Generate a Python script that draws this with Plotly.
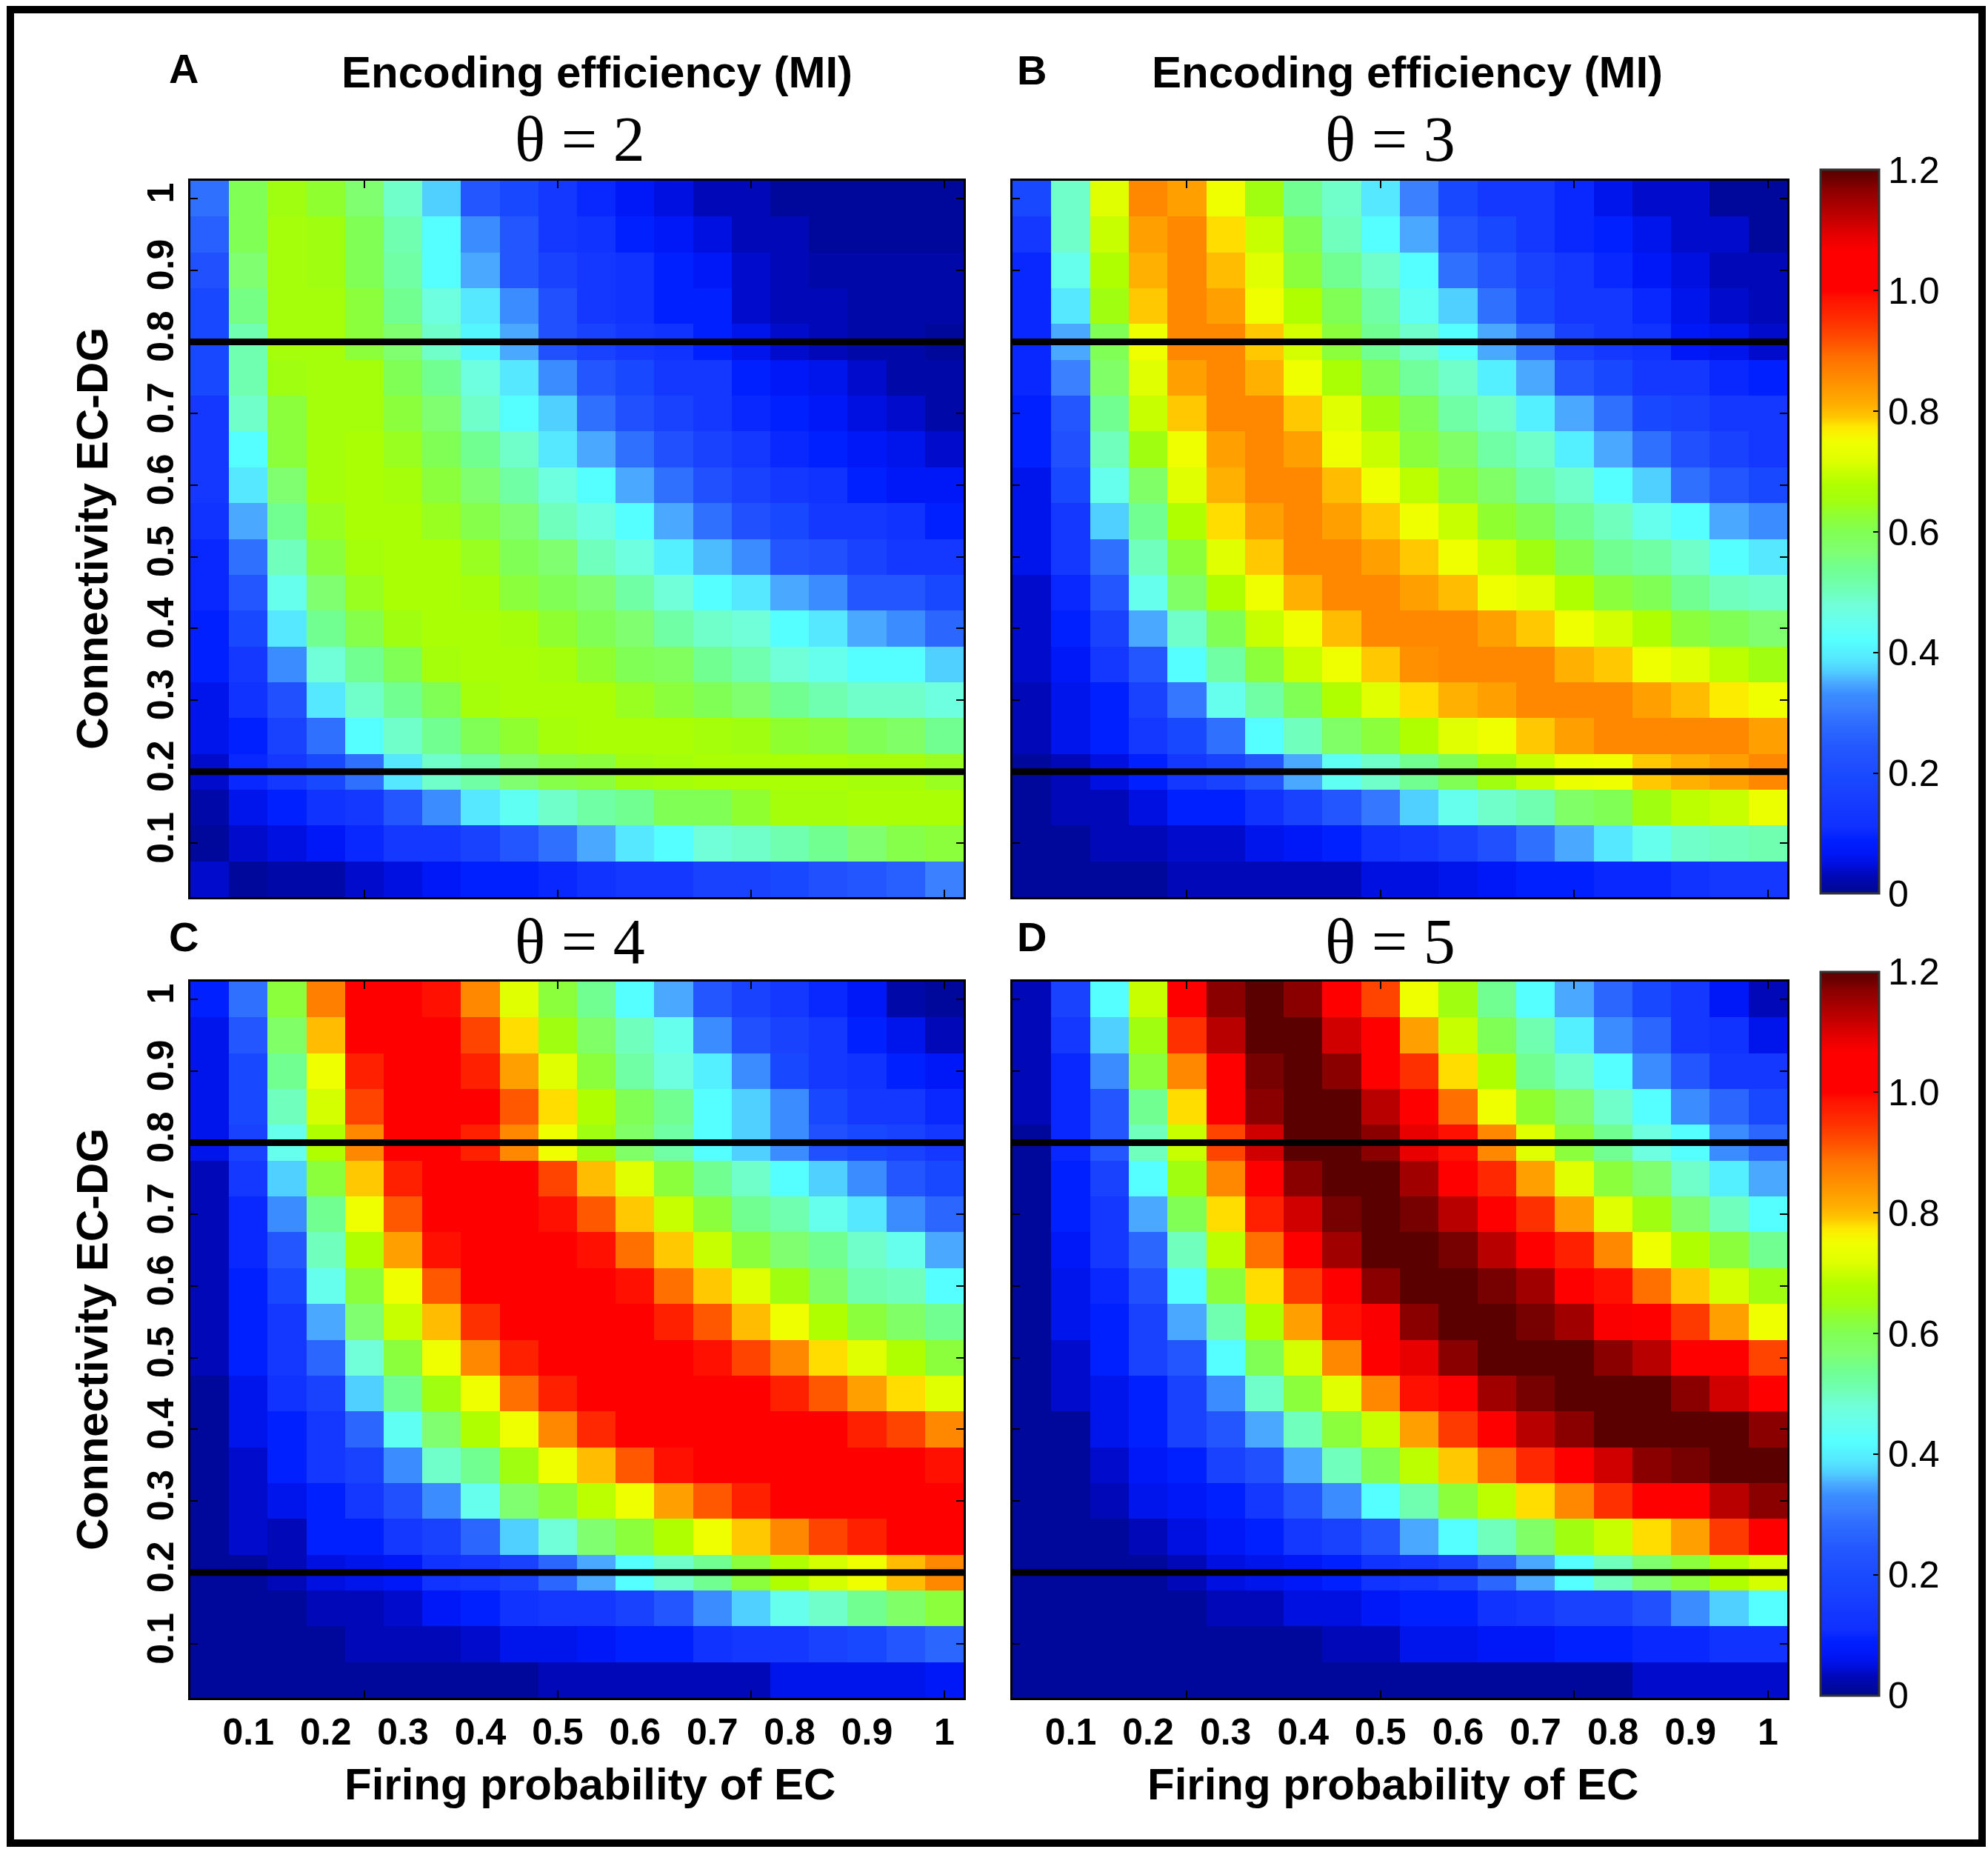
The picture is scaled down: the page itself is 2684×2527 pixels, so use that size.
import plotly.graph_objects as go

W, H = 2684, 2527

# grid of the simulations (cell centres)
x_vals = [0.05, 0.1, 0.15, 0.2, 0.25, 0.3, 0.35, 0.4, 0.45, 0.5,
          0.55, 0.6, 0.65, 0.7, 0.75, 0.8, 0.85, 0.9, 0.95, 1.0]
y_vals = [0.05, 0.1, 0.15, 0.2, 0.25, 0.3, 0.35, 0.4, 0.45, 0.5,
          0.55, 0.6, 0.65, 0.7, 0.75, 0.8, 0.85, 0.9, 0.95, 1.0]

x_tick_vals = [0.1, 0.2, 0.3, 0.4, 0.5, 0.6, 0.7, 0.8, 0.9, 1.0]
x_tick_text = ["0.1", "0.2", "0.3", "0.4", "0.5", "0.6", "0.7", "0.8", "0.9", "1"]
y_tick_vals = [0.1, 0.2, 0.3, 0.4, 0.5, 0.6, 0.7, 0.8, 0.9, 1.0]
y_tick_text = ["0.1", "0.2", "0.3", "0.4", "0.5", "0.6", "0.7", "0.8", "0.9", "1"]
x_mark_vals = [0.25, 0.5, 0.75, 1.0]
band_levels = [0.2, 0.8]
cbar_tick_vals = [0, 0.2, 0.4, 0.6, 0.8, 1.0, 1.2]
cbar_tick_text = ["0", "0.2", "0.4", "0.6", "0.8", "1.0", "1.2"]
thetas = [2, 3, 4, 5]

# MI values, rows listed from connectivity 1.0 (top) down to 0.05 (bottom)
mi_theta2 = [
    [0.29, 0.60, 0.65, 0.63, 0.57, 0.49, 0.37, 0.24, 0.19, 0.14, 0.10, 0.07, 0.05, 0.03, 0.03, 0.01, 0.01, 0.01, 0.01, 0.01],
    [0.26, 0.60, 0.66, 0.65, 0.60, 0.51, 0.42, 0.33, 0.24, 0.14, 0.12, 0.09, 0.07, 0.05, 0.03, 0.03, 0.01, 0.01, 0.01, 0.01],
    [0.22, 0.57, 0.66, 0.65, 0.60, 0.52, 0.42, 0.35, 0.24, 0.17, 0.14, 0.12, 0.09, 0.07, 0.04, 0.03, 0.02, 0.02, 0.02, 0.02],
    [0.19, 0.55, 0.66, 0.66, 0.62, 0.54, 0.47, 0.39, 0.33, 0.22, 0.14, 0.12, 0.09, 0.09, 0.04, 0.03, 0.03, 0.02, 0.02, 0.02],
    [0.19, 0.51, 0.66, 0.66, 0.62, 0.57, 0.49, 0.41, 0.35, 0.22, 0.17, 0.14, 0.12, 0.09, 0.06, 0.04, 0.03, 0.02, 0.02, 0.01],
    [0.19, 0.51, 0.65, 0.66, 0.66, 0.60, 0.54, 0.47, 0.39, 0.33, 0.24, 0.19, 0.14, 0.14, 0.09, 0.07, 0.06, 0.04, 0.02, 0.02],
    [0.14, 0.49, 0.62, 0.66, 0.66, 0.62, 0.57, 0.49, 0.42, 0.37, 0.29, 0.22, 0.17, 0.14, 0.10, 0.09, 0.07, 0.05, 0.04, 0.02],
    [0.14, 0.42, 0.62, 0.66, 0.67, 0.64, 0.60, 0.54, 0.49, 0.39, 0.35, 0.29, 0.22, 0.17, 0.14, 0.10, 0.09, 0.07, 0.06, 0.04],
    [0.14, 0.39, 0.57, 0.66, 0.67, 0.66, 0.62, 0.57, 0.52, 0.47, 0.42, 0.35, 0.29, 0.22, 0.17, 0.14, 0.12, 0.09, 0.07, 0.07],
    [0.12, 0.35, 0.54, 0.64, 0.67, 0.67, 0.64, 0.61, 0.57, 0.50, 0.47, 0.42, 0.35, 0.29, 0.22, 0.19, 0.14, 0.14, 0.12, 0.09],
    [0.10, 0.29, 0.50, 0.62, 0.66, 0.67, 0.67, 0.64, 0.60, 0.57, 0.50, 0.47, 0.40, 0.36, 0.33, 0.24, 0.22, 0.17, 0.14, 0.14],
    [0.10, 0.24, 0.45, 0.57, 0.64, 0.67, 0.67, 0.66, 0.62, 0.60, 0.57, 0.52, 0.48, 0.42, 0.39, 0.35, 0.33, 0.24, 0.24, 0.19],
    [0.09, 0.19, 0.39, 0.54, 0.61, 0.65, 0.67, 0.67, 0.66, 0.63, 0.60, 0.57, 0.52, 0.49, 0.48, 0.42, 0.39, 0.35, 0.33, 0.27],
    [0.09, 0.14, 0.33, 0.48, 0.54, 0.60, 0.66, 0.67, 0.67, 0.66, 0.63, 0.60, 0.59, 0.54, 0.51, 0.48, 0.45, 0.42, 0.42, 0.37],
    [0.06, 0.12, 0.22, 0.39, 0.49, 0.54, 0.60, 0.66, 0.67, 0.67, 0.67, 0.64, 0.62, 0.60, 0.57, 0.54, 0.51, 0.49, 0.49, 0.47],
    [0.06, 0.09, 0.17, 0.29, 0.42, 0.49, 0.54, 0.60, 0.63, 0.66, 0.67, 0.67, 0.67, 0.66, 0.65, 0.63, 0.62, 0.60, 0.58, 0.54],
    [0.04, 0.10, 0.14, 0.19, 0.29, 0.39, 0.49, 0.52, 0.57, 0.61, 0.62, 0.65, 0.66, 0.67, 0.67, 0.67, 0.67, 0.66, 0.66, 0.64],
    [0.02, 0.06, 0.09, 0.12, 0.14, 0.24, 0.33, 0.39, 0.44, 0.49, 0.52, 0.54, 0.60, 0.60, 0.63, 0.66, 0.66, 0.67, 0.67, 0.67],
    [0.01, 0.04, 0.05, 0.07, 0.10, 0.14, 0.14, 0.17, 0.24, 0.29, 0.35, 0.39, 0.42, 0.48, 0.49, 0.51, 0.54, 0.57, 0.61, 0.62],
    [0.04, 0.01, 0.02, 0.02, 0.04, 0.05, 0.07, 0.09, 0.09, 0.10, 0.12, 0.14, 0.14, 0.17, 0.17, 0.19, 0.22, 0.24, 0.26, 0.31],
]

mi_theta3 = [
    [0.19, 0.49, 0.72, 0.86, 0.83, 0.75, 0.65, 0.54, 0.49, 0.39, 0.31, 0.19, 0.14, 0.14, 0.10, 0.06, 0.04, 0.04, 0.01, 0.01],
    [0.14, 0.49, 0.70, 0.83, 0.86, 0.78, 0.70, 0.60, 0.50, 0.42, 0.35, 0.24, 0.19, 0.14, 0.10, 0.09, 0.06, 0.04, 0.04, 0.01],
    [0.10, 0.45, 0.68, 0.81, 0.86, 0.80, 0.72, 0.62, 0.54, 0.49, 0.42, 0.29, 0.24, 0.17, 0.14, 0.10, 0.07, 0.05, 0.03, 0.03],
    [0.10, 0.39, 0.65, 0.79, 0.86, 0.83, 0.75, 0.68, 0.60, 0.52, 0.44, 0.37, 0.29, 0.19, 0.14, 0.14, 0.10, 0.06, 0.04, 0.03],
    [0.10, 0.35, 0.60, 0.75, 0.86, 0.86, 0.79, 0.71, 0.62, 0.54, 0.49, 0.42, 0.35, 0.29, 0.17, 0.14, 0.12, 0.07, 0.06, 0.04],
    [0.10, 0.31, 0.58, 0.72, 0.83, 0.86, 0.81, 0.75, 0.67, 0.60, 0.53, 0.49, 0.40, 0.35, 0.24, 0.19, 0.14, 0.14, 0.10, 0.09],
    [0.09, 0.24, 0.54, 0.70, 0.79, 0.86, 0.86, 0.79, 0.72, 0.65, 0.60, 0.52, 0.49, 0.40, 0.35, 0.29, 0.19, 0.17, 0.14, 0.14],
    [0.09, 0.22, 0.50, 0.65, 0.75, 0.83, 0.86, 0.83, 0.75, 0.70, 0.62, 0.58, 0.52, 0.49, 0.40, 0.35, 0.29, 0.22, 0.17, 0.14],
    [0.06, 0.19, 0.45, 0.58, 0.72, 0.81, 0.86, 0.86, 0.80, 0.75, 0.69, 0.62, 0.58, 0.52, 0.49, 0.42, 0.37, 0.29, 0.24, 0.19],
    [0.06, 0.14, 0.37, 0.54, 0.68, 0.78, 0.83, 0.86, 0.83, 0.79, 0.75, 0.70, 0.63, 0.60, 0.54, 0.50, 0.45, 0.42, 0.35, 0.33],
    [0.06, 0.14, 0.29, 0.50, 0.62, 0.72, 0.79, 0.86, 0.86, 0.83, 0.79, 0.75, 0.70, 0.65, 0.60, 0.54, 0.52, 0.49, 0.42, 0.39],
    [0.04, 0.10, 0.24, 0.45, 0.58, 0.68, 0.75, 0.81, 0.86, 0.86, 0.83, 0.80, 0.75, 0.72, 0.68, 0.62, 0.60, 0.54, 0.50, 0.49],
    [0.04, 0.09, 0.17, 0.35, 0.49, 0.60, 0.70, 0.75, 0.80, 0.86, 0.86, 0.86, 0.83, 0.79, 0.75, 0.71, 0.68, 0.62, 0.60, 0.57],
    [0.04, 0.07, 0.14, 0.24, 0.42, 0.52, 0.62, 0.70, 0.75, 0.79, 0.85, 0.86, 0.86, 0.86, 0.81, 0.79, 0.75, 0.72, 0.69, 0.65],
    [0.03, 0.06, 0.09, 0.17, 0.30, 0.45, 0.52, 0.60, 0.68, 0.72, 0.78, 0.81, 0.83, 0.86, 0.86, 0.86, 0.83, 0.80, 0.77, 0.75],
    [0.03, 0.06, 0.09, 0.14, 0.19, 0.29, 0.42, 0.50, 0.58, 0.62, 0.68, 0.72, 0.75, 0.79, 0.83, 0.86, 0.86, 0.86, 0.86, 0.83],
    [0.01, 0.03, 0.05, 0.09, 0.14, 0.17, 0.24, 0.35, 0.44, 0.49, 0.54, 0.60, 0.65, 0.70, 0.74, 0.75, 0.79, 0.81, 0.83, 0.86],
    [0.01, 0.03, 0.03, 0.05, 0.09, 0.09, 0.12, 0.17, 0.24, 0.30, 0.37, 0.45, 0.49, 0.51, 0.58, 0.60, 0.65, 0.69, 0.70, 0.74],
    [0.01, 0.01, 0.03, 0.03, 0.04, 0.04, 0.06, 0.07, 0.09, 0.12, 0.14, 0.17, 0.22, 0.29, 0.35, 0.39, 0.45, 0.49, 0.50, 0.51],
    [0.01, 0.01, 0.01, 0.01, 0.03, 0.03, 0.03, 0.03, 0.03, 0.05, 0.05, 0.06, 0.07, 0.09, 0.09, 0.10, 0.10, 0.12, 0.14, 0.14],
]

mi_theta4 = [
    [0.09, 0.29, 0.62, 0.87, 1.03, 1.03, 0.99, 0.86, 0.72, 0.62, 0.54, 0.42, 0.35, 0.24, 0.17, 0.14, 0.10, 0.07, 0.02, 0.01],
    [0.06, 0.24, 0.58, 0.80, 1.03, 1.03, 1.03, 0.93, 0.78, 0.65, 0.58, 0.50, 0.45, 0.33, 0.22, 0.17, 0.14, 0.09, 0.06, 0.03],
    [0.06, 0.19, 0.54, 0.75, 0.97, 1.03, 1.03, 0.97, 0.83, 0.72, 0.62, 0.52, 0.47, 0.40, 0.33, 0.19, 0.14, 0.12, 0.09, 0.07],
    [0.06, 0.19, 0.50, 0.71, 0.93, 1.03, 1.03, 1.01, 0.91, 0.78, 0.68, 0.60, 0.54, 0.42, 0.37, 0.33, 0.19, 0.14, 0.14, 0.10],
    [0.06, 0.17, 0.45, 0.68, 0.86, 1.01, 1.03, 0.97, 0.86, 0.75, 0.65, 0.58, 0.52, 0.42, 0.37, 0.33, 0.22, 0.19, 0.17, 0.14],
    [0.03, 0.14, 0.37, 0.62, 0.79, 0.97, 1.03, 1.03, 1.01, 0.93, 0.80, 0.72, 0.62, 0.54, 0.49, 0.42, 0.37, 0.33, 0.24, 0.19],
    [0.03, 0.10, 0.33, 0.54, 0.75, 0.91, 1.03, 1.03, 1.03, 0.99, 0.91, 0.79, 0.70, 0.62, 0.54, 0.51, 0.45, 0.39, 0.33, 0.27],
    [0.03, 0.10, 0.24, 0.50, 0.68, 0.83, 0.99, 1.03, 1.03, 1.03, 0.99, 0.89, 0.79, 0.70, 0.62, 0.57, 0.54, 0.49, 0.45, 0.35],
    [0.03, 0.09, 0.19, 0.45, 0.62, 0.75, 0.91, 1.03, 1.03, 1.03, 1.03, 0.99, 0.89, 0.79, 0.72, 0.65, 0.58, 0.51, 0.50, 0.42],
    [0.03, 0.09, 0.14, 0.35, 0.57, 0.70, 0.80, 0.95, 1.03, 1.03, 1.03, 1.03, 0.97, 0.91, 0.80, 0.75, 0.68, 0.62, 0.58, 0.54],
    [0.03, 0.09, 0.14, 0.27, 0.48, 0.62, 0.75, 0.86, 0.97, 1.03, 1.03, 1.03, 1.03, 0.99, 0.93, 0.86, 0.78, 0.72, 0.68, 0.62],
    [0.01, 0.06, 0.12, 0.17, 0.37, 0.54, 0.65, 0.75, 0.89, 0.97, 1.03, 1.03, 1.03, 1.03, 1.01, 0.97, 0.91, 0.83, 0.78, 0.72],
    [0.01, 0.06, 0.09, 0.14, 0.27, 0.44, 0.57, 0.68, 0.75, 0.86, 0.96, 1.03, 1.03, 1.03, 1.03, 1.03, 1.03, 0.97, 0.93, 0.86],
    [0.01, 0.04, 0.09, 0.14, 0.17, 0.33, 0.49, 0.54, 0.65, 0.75, 0.80, 0.91, 0.99, 1.03, 1.03, 1.03, 1.03, 1.03, 1.03, 0.99],
    [0.01, 0.04, 0.06, 0.09, 0.14, 0.22, 0.33, 0.45, 0.57, 0.62, 0.69, 0.75, 0.83, 0.91, 0.97, 1.01, 1.03, 1.03, 1.03, 1.03],
    [0.01, 0.04, 0.03, 0.09, 0.09, 0.14, 0.17, 0.27, 0.37, 0.48, 0.57, 0.62, 0.68, 0.75, 0.79, 0.86, 0.93, 0.97, 1.03, 1.03],
    [0.01, 0.01, 0.03, 0.05, 0.06, 0.07, 0.12, 0.14, 0.17, 0.27, 0.35, 0.42, 0.49, 0.54, 0.62, 0.68, 0.71, 0.75, 0.80, 0.86],
    [0.01, 0.01, 0.01, 0.03, 0.03, 0.04, 0.07, 0.09, 0.12, 0.14, 0.14, 0.17, 0.24, 0.33, 0.37, 0.45, 0.49, 0.54, 0.58, 0.62],
    [0.01, 0.01, 0.01, 0.01, 0.03, 0.03, 0.03, 0.04, 0.06, 0.06, 0.07, 0.09, 0.09, 0.12, 0.14, 0.14, 0.17, 0.19, 0.24, 0.27],
    [0.01, 0.01, 0.01, 0.01, 0.01, 0.01, 0.01, 0.01, 0.01, 0.03, 0.03, 0.03, 0.03, 0.03, 0.03, 0.06, 0.06, 0.06, 0.06, 0.07],
]

mi_theta5 = [
    [0.03, 0.17, 0.42, 0.70, 1.03, 1.17, 1.20, 1.17, 1.03, 0.93, 0.75, 0.65, 0.54, 0.42, 0.35, 0.27, 0.19, 0.14, 0.07, 0.03],
    [0.03, 0.14, 0.37, 0.65, 0.95, 1.13, 1.20, 1.20, 1.11, 1.01, 0.83, 0.70, 0.60, 0.51, 0.40, 0.33, 0.27, 0.14, 0.12, 0.06],
    [0.03, 0.10, 0.33, 0.62, 0.86, 1.03, 1.18, 1.20, 1.17, 1.03, 0.95, 0.78, 0.68, 0.54, 0.49, 0.42, 0.33, 0.24, 0.14, 0.14],
    [0.03, 0.10, 0.24, 0.54, 0.78, 1.03, 1.17, 1.20, 1.20, 1.13, 1.03, 0.89, 0.75, 0.63, 0.57, 0.49, 0.42, 0.33, 0.27, 0.19],
    [0.01, 0.10, 0.24, 0.50, 0.70, 0.93, 1.11, 1.20, 1.20, 1.17, 1.09, 0.99, 0.86, 0.72, 0.62, 0.54, 0.47, 0.42, 0.33, 0.27],
    [0.01, 0.09, 0.17, 0.42, 0.65, 0.86, 1.03, 1.17, 1.20, 1.20, 1.15, 1.01, 0.96, 0.83, 0.72, 0.62, 0.57, 0.49, 0.40, 0.35],
    [0.01, 0.09, 0.14, 0.35, 0.60, 0.78, 0.97, 1.11, 1.18, 1.20, 1.18, 1.13, 1.01, 0.95, 0.83, 0.72, 0.65, 0.57, 0.50, 0.42],
    [0.01, 0.07, 0.14, 0.27, 0.50, 0.69, 0.89, 1.03, 1.15, 1.20, 1.20, 1.18, 1.13, 1.03, 0.97, 0.86, 0.75, 0.68, 0.62, 0.54],
    [0.01, 0.06, 0.10, 0.22, 0.42, 0.62, 0.78, 0.94, 1.03, 1.17, 1.20, 1.20, 1.18, 1.15, 1.03, 0.99, 0.89, 0.79, 0.71, 0.65],
    [0.01, 0.06, 0.09, 0.17, 0.35, 0.51, 0.68, 0.83, 0.99, 1.07, 1.17, 1.20, 1.20, 1.18, 1.15, 1.07, 1.03, 0.94, 0.83, 0.75],
    [0.01, 0.04, 0.09, 0.17, 0.24, 0.42, 0.60, 0.71, 0.86, 1.01, 1.09, 1.17, 1.20, 1.20, 1.20, 1.17, 1.13, 1.03, 1.03, 0.93],
    [0.01, 0.04, 0.06, 0.09, 0.17, 0.33, 0.49, 0.62, 0.72, 0.86, 0.99, 1.03, 1.15, 1.18, 1.20, 1.20, 1.20, 1.17, 1.11, 1.03],
    [0.01, 0.01, 0.06, 0.09, 0.17, 0.24, 0.35, 0.50, 0.62, 0.70, 0.83, 0.94, 1.03, 1.13, 1.17, 1.20, 1.20, 1.20, 1.20, 1.17],
    [0.01, 0.01, 0.04, 0.07, 0.09, 0.17, 0.22, 0.35, 0.50, 0.60, 0.69, 0.79, 0.89, 0.96, 1.03, 1.11, 1.17, 1.18, 1.20, 1.20],
    [0.01, 0.01, 0.03, 0.06, 0.07, 0.09, 0.14, 0.24, 0.33, 0.42, 0.51, 0.62, 0.69, 0.78, 0.86, 0.95, 1.03, 1.03, 1.13, 1.17],
    [0.01, 0.01, 0.01, 0.03, 0.05, 0.07, 0.09, 0.14, 0.17, 0.24, 0.35, 0.42, 0.50, 0.58, 0.65, 0.70, 0.78, 0.83, 0.94, 1.03],
    [0.01, 0.01, 0.01, 0.01, 0.03, 0.05, 0.06, 0.07, 0.09, 0.12, 0.14, 0.17, 0.27, 0.35, 0.42, 0.50, 0.57, 0.62, 0.68, 0.71],
    [0.01, 0.01, 0.01, 0.01, 0.01, 0.03, 0.03, 0.05, 0.05, 0.07, 0.09, 0.09, 0.12, 0.14, 0.17, 0.17, 0.22, 0.33, 0.37, 0.42],
    [0.01, 0.01, 0.01, 0.01, 0.01, 0.01, 0.01, 0.01, 0.03, 0.03, 0.06, 0.06, 0.07, 0.07, 0.09, 0.09, 0.10, 0.10, 0.12, 0.12],
    [0.01, 0.01, 0.01, 0.01, 0.01, 0.01, 0.01, 0.01, 0.01, 0.01, 0.01, 0.01, 0.01, 0.01, 0.01, 0.01, 0.04, 0.04, 0.04, 0.04],
]

# colour map as it appears on the figure's colour bar (value, colour)
cmap_stops = [
    (0.00, "#000890"), (0.02, "#0008A8"), (0.035, "#0008C0"), (0.05, "#0010E0"),
    (0.07, "#0018F8"), (0.09, "#0020FF"), (0.11, "#1030FF"), (0.14, "#1438FF"),
    (0.165, "#1840FF"), (0.19, "#1848FF"), (0.22, "#2050FF"), (0.245, "#2458FF"),
    (0.27, "#2A66FF"), (0.29, "#3070FF"), (0.31, "#3A80FF"), (0.33, "#3A8CFF"),
    (0.35, "#4AA8FF"), (0.37, "#50D0FF"), (0.39, "#55E8FF"), (0.42, "#55FFFF"),
    (0.45, "#66FFEE"), (0.48, "#70FFD8"), (0.51, "#70FFB0"), (0.54, "#70FF90"),
    (0.57, "#80FF70"), (0.60, "#80FF55"), (0.63, "#90FF30"), (0.65, "#A0FF10"),
    (0.68, "#B0FF00"), (0.70, "#C8FF00"), (0.72, "#E0FF00"), (0.75, "#F0FF00"),
    (0.775, "#FFE800"), (0.79, "#FFC800"), (0.81, "#FFB000"), (0.83, "#FFA000"),
    (0.85, "#FF9000"), (0.87, "#FF8000"), (0.89, "#FF7000"), (0.91, "#FF5800"),
    (0.93, "#FF4400"), (0.95, "#FF3000"), (0.97, "#FF2000"), (0.99, "#FF1000"),
    (1.00, "#FF0000"), (1.065, "#FF0000"), (1.09, "#E80000"), (1.11, "#D00000"),
    (1.13, "#B80000"), (1.15, "#A00000"), (1.17, "#8A0000"), (1.185, "#6E0000"),
    (1.20, "#5A0000"),
]
CMAX = 1.2
colorscale = [[v / CMAX, c] for v, c in cmap_stops]


def px_x(p):
    return p / W


def px_y(p):
    return 1 - p / H


BOLD = dict(family="Liberation Sans, Arial, sans-serif", color="black", weight="bold")

# panel boxes in pixels: (left, right, top, bottom)
panels = [
    ("A", mi_theta2, (257, 1301, 244, 1211), "coloraxis"),
    ("B", mi_theta3, (1367, 2413, 244, 1211), "coloraxis"),
    ("C", mi_theta4, (257, 1301, 1325, 2292), "coloraxis2"),
    ("D", mi_theta5, (1367, 2413, 1325, 2292), "coloraxis2"),
]

fig = go.Figure()
layout = dict(
    width=W, height=H, margin=dict(l=0, r=0, t=0, b=0),
    paper_bgcolor="white", plot_bgcolor="white", showlegend=False,
    font=dict(family="Liberation Sans, Arial, sans-serif", color="black"),
)
shapes = []

for i, (letter, rows, box, cax) in enumerate(panels):
    n = "" if i == 0 else str(i + 1)
    left, right, top, bottom = box
    fig.add_trace(go.Heatmap(
        x=x_vals, y=y_vals, z=rows[::-1], coloraxis=cax,
        xaxis="x" + n, yaxis="y" + n, hoverinfo="skip",
    ))
    bottom_row = i >= 2
    left_col = i % 2 == 0
    layout["xaxis" + n] = dict(
        domain=[px_x(left), px_x(right)], anchor="y" + n,
        range=[0.025, 1.025], showgrid=False, zeroline=False,
        showline=True, linecolor="black", linewidth=3, mirror="ticks",
        tickmode="array", tickvals=x_tick_vals, ticktext=x_tick_text, ticks="",
        showticklabels=bottom_row, tickfont=dict(BOLD, size=50),
        ticklabelstandoff=0,
        minor=dict(tickmode="array", tickvals=x_mark_vals, ticks="inside",
                   ticklen=10, tickwidth=2, tickcolor="black", showgrid=False),
    )
    layout["yaxis" + n] = dict(
        domain=[px_y(bottom), px_y(top)], anchor="x" + n,
        range=[0.025, 1.025], showgrid=False, zeroline=False,
        showline=True, linecolor="black", linewidth=3, mirror="ticks",
        tickmode="array", tickvals=y_tick_vals, ticktext=y_tick_text,
        ticks="inside", ticklen=10, tickwidth=2, tickcolor="black",
        tickangle=-90, showticklabels=left_col, tickfont=dict(BOLD, size=50),
        ticklabelstandoff=0,
    )
    for lev in band_levels:
        shapes.append(dict(type="line", xref="x" + n + " domain", yref="y" + n,
                           x0=0, x1=1, y0=lev, y1=lev,
                           line=dict(color="black", width=9), layer="above"))

cbar_common = dict(
    xanchor="left", x=px_x(2458), xpad=0, ypad=0,
    thickness=79, thicknessmode="pixels", lenmode="pixels", len=977,
    yanchor="middle", outlinewidth=3, outlinecolor="#333333",
    tickmode="array", tickvals=cbar_tick_vals, ticktext=cbar_tick_text,
    ticks="inside", ticklen=9, tickwidth=2, tickcolor="black",
    tickfont=dict(family="Liberation Sans, Arial, sans-serif", size=50, color="black"),
)
layout["coloraxis"] = dict(colorscale=colorscale, cmin=0, cmax=CMAX,
                           colorbar=dict(cbar_common, y=px_y(718)))
layout["coloraxis2"] = dict(colorscale=colorscale, cmin=0, cmax=CMAX,
                            colorbar=dict(cbar_common, y=px_y(1800)))

# outer frame
shapes.append(dict(type="rect", xref="paper", yref="paper",
                   x0=px_x(14), x1=px_x(2676), y0=px_y(2488), y1=px_y(13),
                   line=dict(color="black", width=10)))

annotations = []


def label(text, x, y, size, font=None, angle=0):
    f = dict(font or BOLD, size=size)
    annotations.append(dict(text=text, x=px_x(x), y=px_y(y), xref="paper", yref="paper",
                            xanchor="center", yanchor="middle", showarrow=False,
                            font=f, textangle=angle))


SERIF = dict(family="Liberation Serif, Times New Roman, serif", color="black")

for letter, x, y in [("A", 248, 93), ("B", 1393, 94), ("C", 248, 1264), ("D", 1393, 1264)]:
    label(letter, x, y, 56)
for x in (806, 1900):
    label("Encoding efficiency (MI)", x, 97, 60)
for th, (x, y) in zip(thetas, [(783, 188), (1877, 188), (783, 1271), (1877, 1271)]):
    label("\u03b8 = %d" % th, x, y, 86, font=SERIF)
for y in (727, 1808):
    label("Connectivity EC-DG", 124, y, 60, angle=-90)
for x in (796, 1880):
    label("Firing probability of EC", x, 2408, 60)

layout["shapes"] = shapes
layout["annotations"] = annotations
fig.update_layout(**layout)

fig.write_html("out.html", config={"displayModeBar": False},
               post_script="document.body.style.margin='0';")
